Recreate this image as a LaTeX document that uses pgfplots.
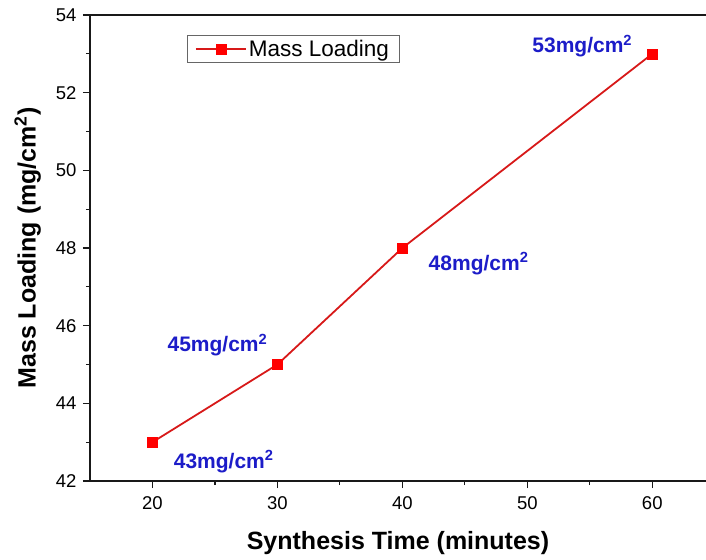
\documentclass[border=0pt]{standalone}
\usepackage{pgfplots}
\pgfplotsset{compat=1.18}
\usepackage{fontspec}
\setmainfont{Liberation Sans}
\usetikzlibrary{calc}
\definecolor{lblue}{RGB}{28,28,200}
\definecolor{lred}{RGB}{215,25,25}
\begin{document}
\begin{tikzpicture}
\begin{axis}[
  scale only axis,
  width=616pt, height=466pt,
  xmin=15, xmax=64.3, ymin=42, ymax=54,
  axis x line=box, axis y line=left,
  every outer y axis line/.append style={-},
  every inner y axis line/.append style={-},
  axis line style={line width=1.3pt, black!90},
  xtick={20,30,40,50,60}, ytick={42,44,...,54},
  minor x tick num=1, minor y tick num=1,
  xtick pos=bottom, ytick pos=left,
  tick align=outside,
  major tick length=7pt, minor tick length=4pt,
  every tick/.style={line width=1.1pt, black!90},
  tick label style={font=\fontsize{18.5}{22}\selectfont},
  xticklabel style={yshift=-5pt},
  yticklabel style={xshift=-3pt},
  /pgf/number format/assume math mode=true,
  xlabel={\textbf{Synthesis Time (minutes)}},
  ylabel={\textbf{Mass Loading (mg/cm\textsuperscript{2})}},
  label style={font=\fontsize{25}{29}\selectfont},
  xlabel style={yshift=-15pt},
  ylabel style={yshift=8pt},
  legend style={at={(0.157,0.958)}, anchor=north west, draw=black!60, line width=0.6pt,
    font=\fontsize{22.5}{26}\selectfont, inner xsep=8pt, inner ysep=3pt},
  legend cell align=left,
  legend image code/.code={\draw[#1, mark repeat=2, mark phase=2] plot coordinates {(0pt,0pt) (25pt,0pt) (50pt,0pt)};},
  clip=false,
]
\addplot[lred, line width=1.8pt, mark=square*, mark size=5pt, mark options={red, draw=red, line width=0.5pt}]
  coordinates {(20,43) (30,45) (40,48) (60,53)};
\addlegendentry{Mass Loading}
\begin{scope}[every node/.style={text=lblue, font=\fontsize{21}{24}\selectfont\bfseries}]
\node at (axis cs:25.7,42.5) {43mg/cm\textsuperscript{2}};
\node at (axis cs:25.2,45.5) {45mg/cm\textsuperscript{2}};
\node at (axis cs:46.1,47.6) {48mg/cm\textsuperscript{2}};
\node at (axis cs:54.4,53.2) {53mg/cm\textsuperscript{2}};
\end{scope}
\end{axis}
\pgfresetboundingbox
\path[use as bounding box] ($(current axis.south west)+(-90pt,-78pt)$) rectangle ($(current axis.north east)+(0pt,15pt)$);
\end{tikzpicture}
\end{document}
